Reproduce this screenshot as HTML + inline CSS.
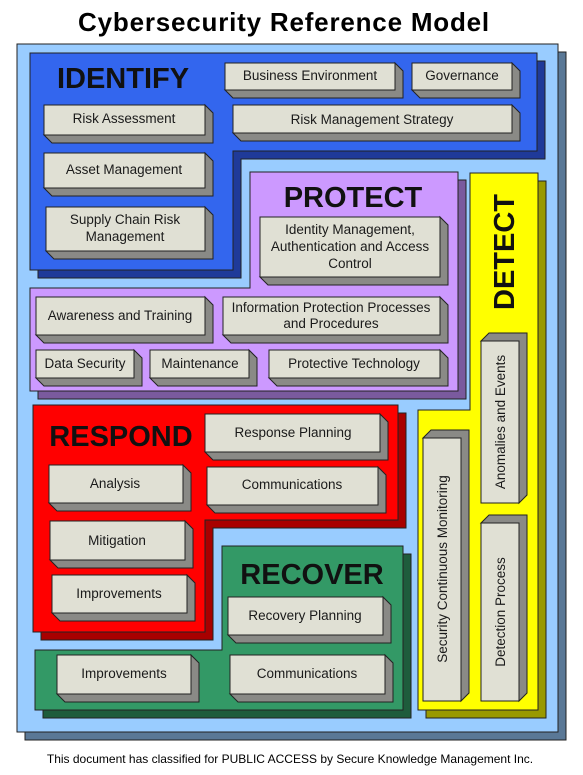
<!DOCTYPE html>
<html><head><meta charset="utf-8"><style>
html,body{margin:0;padding:0;background:#fff;}
svg{display:block;}
text{font-family:"Liberation Sans",Arial,sans-serif;}
.t{font-size:13.5px;fill:#1a1a1a;text-anchor:middle;}
.h{font-size:29px;font-weight:bold;fill:#111;text-anchor:middle;}
.f{fill:#e0e0d4;stroke:#222;stroke-width:1;}
.s{fill:#8a8a86;stroke:#222;stroke-width:1;}
</style></head><body>
<svg width="583" height="775" viewBox="0 0 583 775" xmlns="http://www.w3.org/2000/svg">
<text x="284" y="31" style="font-size:26px;font-weight:bold;fill:#000;text-anchor:middle;letter-spacing:0.8px;">Cybersecurity Reference Model</text>

<polygon points="25,52 566,52 566,740 25,740" fill="#5a7896" stroke="#222"/>
<polygon points="17,44 558,44 558,732 17,732" fill="#99ccff" stroke="#222"/>

<polygon points="38,61 545,61 545,159 241,159 241,278 38,278" fill="#1f3a99" stroke="#222"/>
<polygon points="30,53 537,53 537,151 233,151 233,270 30,270" fill="#3366ee" stroke="#222"/>
<text class="h" x="123" y="88">IDENTIFY</text>

<polygon points="258,180 466,180 466,399 38,399 38,296 258,296" fill="#7a5a9e" stroke="#222"/>
<polygon points="250,172 458,172 458,391 30,391 30,288 250,288" fill="#cc99ff" stroke="#222"/>
<text class="h" x="353" y="207">PROTECT</text>

<polygon points="478,181 546,181 546,718 426,718 426,418 478,418" fill="#999900" stroke="#222"/>
<polygon points="470,173 538,173 538,710 418,710 418,410 470,410" fill="#ffff00" stroke="#222"/>
<text class="h" transform="translate(514,252) rotate(-90)" x="0" y="0">DETECT</text>

<polygon points="41,413 406,413 406,528 213,528 213,640 41,640" fill="#a80000" stroke="#222"/>
<polygon points="33,405 398,405 398,520 205,520 205,632 33,632" fill="#ff0000" stroke="#222"/>
<text class="h" x="121" y="446">RESPOND</text>

<polygon points="230,554 411,554 411,718 43,718 43,658 230,658" fill="#1e5c3c" stroke="#222"/>
<polygon points="222,546 403,546 403,710 35,710 35,650 222,650" fill="#339966" stroke="#222"/>
<text class="h" x="312" y="584">RECOVER</text>

<polygon class="s" points="225,90 395,90 395,63 403,71 403,98 233,98"/><rect class="f" x="225" y="63" width="170" height="27"/>
<text class="t" x="310" y="80">Business Environment</text>
<polygon class="s" points="412,90 512,90 512,63 520,71 520,98 420,98"/><rect class="f" x="412" y="63" width="100" height="27"/>
<text class="t" x="462" y="80">Governance</text>
<polygon class="s" points="233,133 512,133 512,105 520,113 520,141 241,141"/><rect class="f" x="233" y="105" width="279" height="28"/>
<text class="t" x="372" y="124">Risk Management Strategy</text>
<polygon class="s" points="44,135 205,135 205,105 213,113 213,143 52,143"/><rect class="f" x="44" y="105" width="161" height="30"/>
<text class="t" x="124" y="123">Risk Assessment</text>
<polygon class="s" points="44,188 205,188 205,153 213,161 213,196 52,196"/><rect class="f" x="44" y="153" width="161" height="35"/>
<text class="t" x="124" y="174">Asset Management</text>
<polygon class="s" points="46,251 205,251 205,207 213,215 213,259 54,259"/><rect class="f" x="46" y="207" width="159" height="44"/>
<text class="t" x="125" y="224">Supply Chain Risk</text><text class="t" x="125" y="241">Management</text>

<polygon class="s" points="260,277 440,277 440,217 448,225 448,285 268,285"/><rect class="f" x="260" y="217" width="180" height="60"/>
<text class="t" x="350" y="234">Identity Management,</text><text class="t" x="350" y="251">Authentication and Access</text><text class="t" x="350" y="268">Control</text>
<polygon class="s" points="36,335 205,335 205,297 213,305 213,343 44,343"/><rect class="f" x="36" y="297" width="169" height="38"/>
<text class="t" x="120" y="320">Awareness and Training</text>
<polygon class="s" points="223,335 440,335 440,297 448,305 448,343 231,343"/><rect class="f" x="223" y="297" width="217" height="38"/>
<text class="t" x="331" y="312">Information Protection Processes</text><text class="t" x="331" y="328">and Procedures</text>
<polygon class="s" points="36,378 134,378 134,350 142,358 142,386 44,386"/><rect class="f" x="36" y="350" width="98" height="28"/>
<text class="t" x="85" y="368">Data Security</text>
<polygon class="s" points="150,378 249,378 249,350 257,358 257,386 158,386"/><rect class="f" x="150" y="350" width="99" height="28"/>
<text class="t" x="200" y="368">Maintenance</text>
<polygon class="s" points="269,378 440,378 440,350 448,358 448,386 277,386"/><rect class="f" x="269" y="350" width="171" height="28"/>
<text class="t" x="354" y="368">Protective Technology</text>

<polygon class="s" points="205,452 380,452 380,414 388,422 388,460 213,460"/><rect class="f" x="205" y="414" width="175" height="38"/>
<text class="t" x="293" y="437">Response Planning</text>
<polygon class="s" points="49,503 183,503 183,465 191,473 191,511 57,511"/><rect class="f" x="49" y="465" width="134" height="38"/>
<text class="t" x="115" y="488">Analysis</text>
<polygon class="s" points="207,505 378,505 378,467 386,475 386,513 215,513"/><rect class="f" x="207" y="467" width="171" height="38"/>
<text class="t" x="292" y="489">Communications</text>
<polygon class="s" points="50,560 185,560 185,521 193,529 193,568 58,568"/><rect class="f" x="50" y="521" width="135" height="39"/>
<text class="t" x="117" y="545">Mitigation</text>
<polygon class="s" points="52,613 187,613 187,575 195,583 195,621 60,621"/><rect class="f" x="52" y="575" width="135" height="38"/>
<text class="t" x="119" y="598">Improvements</text>

<polygon class="s" points="228,635 383,635 383,597 391,605 391,643 236,643"/><rect class="f" x="228" y="597" width="155" height="38"/>
<text class="t" x="305" y="620">Recovery Planning</text>
<polygon class="s" points="57,694 191,694 191,655 199,663 199,702 65,702"/><rect class="f" x="57" y="655" width="134" height="39"/>
<text class="t" x="124" y="678">Improvements</text>
<polygon class="s" points="230,694 385,694 385,655 393,663 393,702 238,702"/><rect class="f" x="230" y="655" width="155" height="39"/>
<text class="t" x="307" y="678">Communications</text>

<polygon class="s" points="423,438 431,430 469,430 469,693 461,701 461,438"/><rect class="f" x="423" y="438" width="38" height="263"/>
<text class="t" transform="translate(447,569) rotate(-90)">Security Continuous Monitoring</text>
<polygon class="s" points="481,341 489,333 527,333 527,495 519,503 519,341"/><rect class="f" x="481" y="341" width="38" height="162"/>
<text class="t" transform="translate(505,422) rotate(-90)">Anomalies and Events</text>
<polygon class="s" points="481,523 489,515 527,515 527,693 519,701 519,523"/><rect class="f" x="481" y="523" width="38" height="178"/>
<text class="t" transform="translate(505,612) rotate(-90)">Detection Process</text>

<text x="290" y="763" style="font-size:12px;fill:#000;text-anchor:middle;">This document has classified for PUBLIC ACCESS by Secure Knowledge Management Inc.</text>
</svg>
</body></html>
